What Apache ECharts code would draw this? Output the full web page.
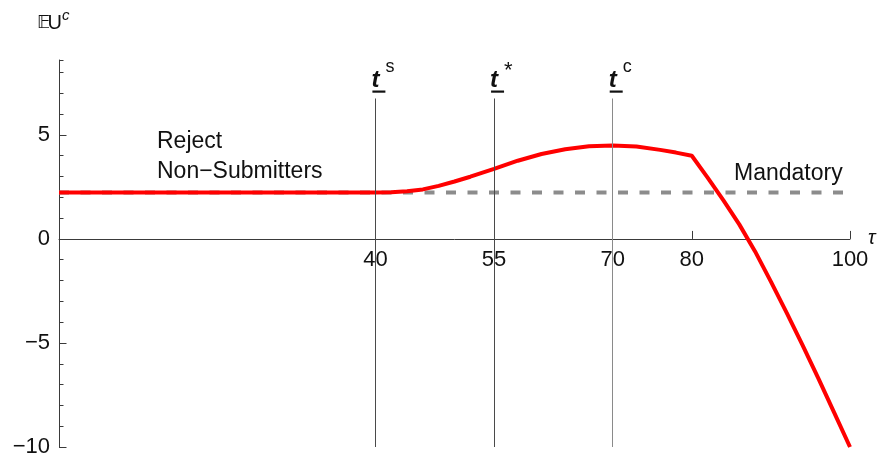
<!DOCTYPE html>
<html>
<head>
<meta charset="utf-8">
<script src="https://cdn.jsdelivr.net/npm/echarts@6/dist/echarts.min.js"></script>
<style>html,body{margin:0;padding:0;background:#fff}#cnv{width:883px;height:460px}</style>
</head>
<body>
<div id="cnv"></div>
<script>
// expected utility of the chooser vs tau
var tau = [0, 40, 42, 44, 46, 48, 50, 52, 55, 58, 61, 64, 67, 70, 73, 76, 78, 80, 82, 84, 86, 88, 90, 92, 94, 96, 98, 100];
var eu = [2.23, 2.23, 2.24, 2.29, 2.38, 2.55, 2.76, 2.99, 3.37, 3.76, 4.08, 4.31, 4.45, 4.49, 4.44, 4.28, 4.15, 4.0, 2.95, 1.85, 0.7, -0.6, -2.05, -3.55, -5.1, -6.7, -8.35, -10];
// mandatory level (dashed)
var mandTau = [0, 100];
var mandEU = [2.23, 2.23];
// vertical markers t^s, t*, t^c
var markTau = [40, 55, 70];
var markSup = ['s', '*', 'c'];
var markTop = 6.75;
var markCol = ['#4a4a4a', '#4a4a4a', '#8a8a8a'];
// axes
var xTicks = [40, 55, 70, 80, 100];
var yTicks = [-10, -5, 0, 5];
var yMinor = [-9, -8, -7, -6, -4, -3, -2, -1, 1, 2, 3, 4, 6, 7, 8, 8.6];
var yMin = -10, yMax = 8.6;

var axisCol = '#3a3a3a';
var fam = '"Liberation Sans", Arial, sans-serif';
var gridTop = 60, gridBottom = 13, H = 460;

var main = document.getElementById("cnv");
var myechart = echarts.init(main);

function zip(a, b) { return a.map(function (v, i) { return [v, b[i]]; }); }

// x axis sits at y = 0: shift it up from the grid bottom
var gridH = H - gridTop - gridBottom;
var xOffset = -gridH * (0 - yMin) / (yMax - yMin);

var option = {
    animation: false,
    grid: { left: 59, right: 33, top: gridTop, bottom: gridBottom, outerBoundsMode: 'none', containLabel: false },
    xAxis: {
        type: 'value', min: 0, max: 100, position: 'bottom', offset: xOffset,
        name: 'τ', nameLocation: 'end', nameGap: 18,
        nameTextStyle: { fontStyle: 'italic', fontSize: 20, color: '#111', fontFamily: fam },
        axisLine: { onZero: false, lineStyle: { color: axisCol, width: 1 } },
        axisTick: { inside: true, length: 8, customValues: xTicks, lineStyle: { color: axisCol } },
        axisLabel: { customValues: xTicks, fontSize: 22, margin: 10, color: '#111', fontFamily: fam },
        splitLine: { show: false }
    },
    yAxis: [{
        type: 'value', min: yMin, max: yMax, position: 'left',
        axisLine: { show: true, onZero: false, lineStyle: { color: axisCol, width: 1 } },
        axisTick: { inside: true, length: 7.5, customValues: yTicks, lineStyle: { color: axisCol } },
        axisLabel: {
            customValues: yTicks, fontSize: 22, margin: 9, color: '#111', fontFamily: fam,
            formatter: function (v) { return String(v).replace('-', '\u2212'); }
        },
        splitLine: { show: false }
    }, {
        type: 'value', min: yMin, max: yMax, position: 'left',
        axisLine: { show: false, onZero: false },
        axisTick: { show: true, inside: true, length: 4.5, customValues: yMinor, lineStyle: { color: axisCol } },
        axisLabel: { show: false },
        splitLine: { show: false }
    }],
    series: [{
        type: 'line', data: zip(mandTau, mandEU), showSymbol: false, z: 2,
        lineStyle: { color: '#8c8c8c', width: 4, type: [10, 11.5] },
        markLine: {
            silent: true, symbol: ['none', 'none'], label: { show: false },
            lineStyle: { type: 'solid', width: 1 },
            data: markTau.map(function (t, i) {
                return [{ coord: [t, markTop], lineStyle: { color: markCol[i], type: 'solid', width: 1 } }, { coord: [t, yMin] }];
            })
        }
    }, {
        type: 'line', data: zip(tau, eu), showSymbol: false, z: 4,
        lineStyle: { color: '#ff0000', width: 4 }
    }]
};
myechart.setOption(option);

// labels on top of the marker lines, and the free text
var g = [];
markTau.forEach(function (t, i) {
    var px = myechart.convertToPixel({ gridIndex: 0 }, [t, 0])[0];
    g.push({ type: 'text', x: px - 4, y: 80, style: { text: 't', font: 'italic bold 24px ' + fam, fill: '#111', textAlign: 'left', align: 'left', textVerticalAlign: 'middle', verticalAlign: 'middle' } });
    g.push({ type: 'rect', shape: { x: px - 3, y: 90.5, width: 13, height: 2.2 }, style: { fill: '#111' } });
    g.push({ type: 'text', x: px + 10, y: i === 1 ? 71 : 67, style: { text: markSup[i], font: (i === 1 ? 22 : 18) + 'px ' + fam, fill: '#111', textAlign: 'left', align: 'left', textVerticalAlign: 'middle', verticalAlign: 'middle' } });
});
function txt(s, x, y, size, extra) {
    g.push({ type: 'text', x: x, y: y, style: { text: s, font: (extra || '') + size + 'px ' + fam, fill: '#111', textAlign: 'left', align: 'left', textVerticalAlign: 'middle', verticalAlign: 'middle' } });
}
g.push({ type: 'text', x: 37, y: 23, style: { text: '\uD835\uDD3C', font: '18px "DejaVu Sans", sans-serif', fill: '#111', textAlign: 'left', align: 'left', textVerticalAlign: 'middle', verticalAlign: 'middle' } });
txt('U', 47.5, 23, 20);
txt('c', 62, 16, 15, 'italic ');
txt('Reject', 157, 142, 23);
txt('Non\u2212Submitters', 157, 172, 23);
txt('Mandatory', 734, 174, 23);
myechart.setOption({ graphic: g });
</script>
</body>
</html>
